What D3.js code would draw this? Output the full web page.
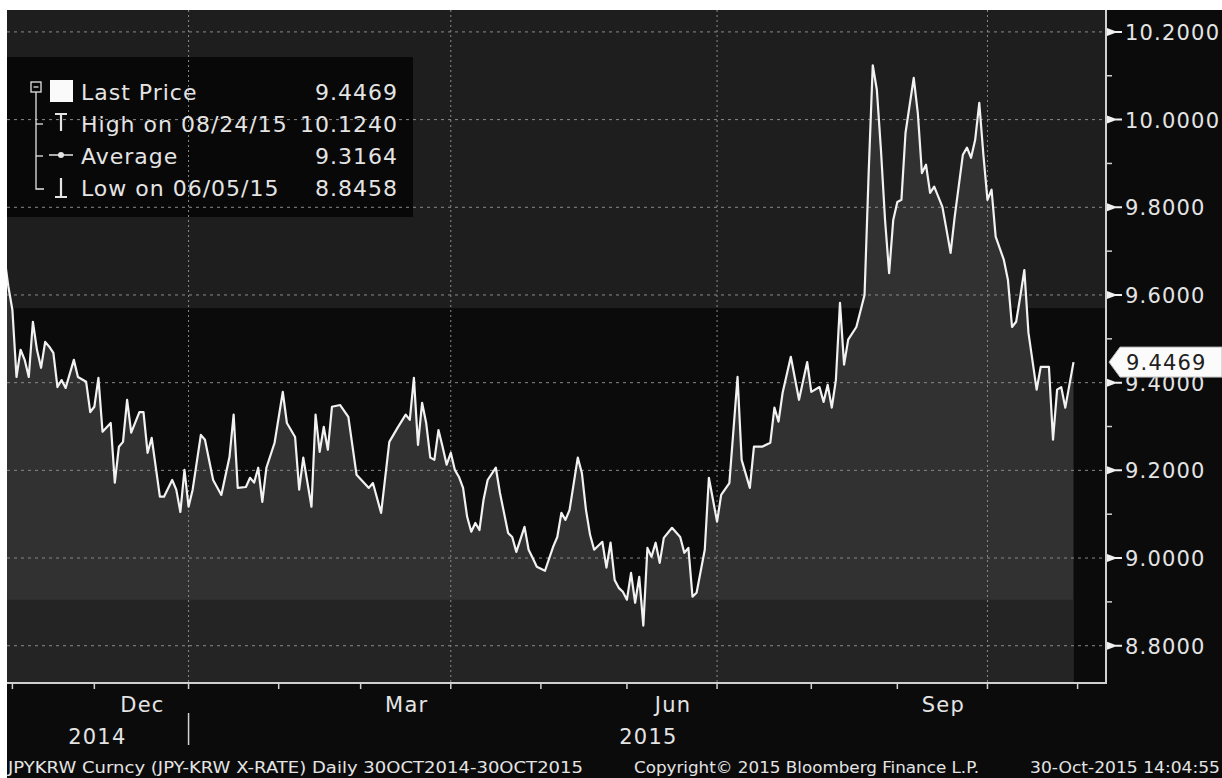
<!DOCTYPE html>
<html>
<meta charset="utf-8">
<style>
  body {
    margin: 0;
    background: #fff;
  }
  svg { display: block; }
  text {
    font-family: 'DejaVu Sans', sans-serif;
    fill: #e4e4e4;
  }
  .big {
    font-size: 21px;
    letter-spacing: 1.2px;
  }
  .leg {
    font-size: 22px;
    letter-spacing: 1px;
  }
  .foot { font-size: 15px; }
</style>
<body>
<script src="https://cdnjs.cloudflare.com/ajax/libs/d3/7.8.5/d3.min.js"></script>
<script>

// JPYKRW daily close, 30 Oct 2014 - 30 Oct 2015
// x is the trading-day index counted from 30 Oct 2014 (weekends skipped, like Bloomberg does)
var dayIdx = [0, 1, 2, 3, 4, 5, 6, 7, 8, 9, 10, 11, 12, 13, 14, 15, 17, 18, 20, 21,
  22, 23, 24, 26, 27, 28, 29, 30, 31, 33, 34, 35, 36, 38, 39, 41, 42, 43, 44, 45,
  46, 48, 49, 51, 53, 55, 56, 57, 59, 60, 61, 62, 63, 64, 66, 68, 69, 71, 72, 73,
  75, 76, 77, 78, 79, 80, 82, 84, 86, 89, 90, 92, 94, 96, 98, 99, 100, 101, 102, 103,
  104, 105, 106, 107, 108, 109, 110, 111, 112, 113, 114, 115, 116, 117, 118, 120, 121, 123, 124, 125,
  127, 128, 129, 130, 132, 134, 135, 136, 137, 138, 140, 141, 142, 143, 144, 146, 147, 148, 149, 150,
  151, 152, 153, 154, 155, 156, 157, 158, 159, 160, 161, 163, 165, 166, 167, 168, 169, 171, 172, 174,
  175, 177, 179, 180, 182, 183, 185, 187, 188, 189, 190, 192, 194, 196, 197, 199, 200, 201, 202, 203,
  204, 205, 206, 208, 210, 211, 212, 213, 214, 215, 216, 217, 218, 219, 220, 222, 223, 224, 225, 226,
  227, 229, 230, 231, 232, 234, 235, 236, 237, 238, 239, 240, 241, 242, 244, 245, 246, 247, 248, 249,
  250, 252, 253, 255, 256, 257, 258, 259, 261];

var rate = [9.690, 9.620, 9.566, 9.413, 9.475, 9.452, 9.413, 9.539, 9.475, 9.434, 9.493, 9.482, 9.468, 9.390, 9.406, 9.388, 9.452, 9.413, 9.402, 9.333,
  9.345, 9.411, 9.288, 9.308, 9.172, 9.254, 9.265, 9.361, 9.286, 9.333, 9.333, 9.240, 9.274, 9.140, 9.140, 9.178, 9.156, 9.105, 9.201, 9.117,
  9.156, 9.281, 9.270, 9.178, 9.144, 9.231, 9.327, 9.160, 9.162, 9.183, 9.172, 9.206, 9.128, 9.206, 9.263, 9.379, 9.308, 9.276, 9.156, 9.229,
  9.117, 9.327, 9.242, 9.299, 9.247, 9.345, 9.349, 9.322, 9.190, 9.160, 9.171, 9.103, 9.265, 9.297, 9.327, 9.315, 9.411, 9.258, 9.354, 9.308,
  9.229, 9.224, 9.292, 9.254, 9.213, 9.240, 9.201, 9.185, 9.160, 9.094, 9.060, 9.080, 9.064, 9.133, 9.178, 9.206, 9.149, 9.057, 9.048, 9.014,
  9.071, 9.019, 9.000, 8.980, 8.971, 9.026, 9.048, 9.103, 9.087, 9.110, 9.229, 9.194, 9.110, 9.053, 9.019, 9.037, 8.978, 9.035, 8.950, 8.932,
  8.923, 8.905, 8.966, 8.898, 8.957, 8.846, 9.023, 9.003, 9.035, 8.989, 9.046, 9.069, 9.048, 9.012, 9.023, 8.912, 8.921, 9.019, 9.183, 9.083,
  9.144, 9.171, 9.413, 9.224, 9.160, 9.254, 9.254, 9.263, 9.343, 9.311, 9.377, 9.459, 9.361, 9.447, 9.379, 9.390, 9.356, 9.395, 9.343, 9.406,
  9.582, 9.441, 9.498, 9.527, 9.600, 9.878, 10.124, 10.068, 9.931, 9.771, 9.650, 9.771, 9.812, 9.817, 9.970, 10.095, 10.015, 9.878, 9.897, 9.833,
  9.847, 9.801, 9.749, 9.696, 9.778, 9.920, 9.936, 9.913, 9.954, 10.038, 9.920, 9.817, 9.840, 9.733, 9.680, 9.634, 9.527, 9.539, 9.596, 9.657,
  9.514, 9.384, 9.436, 9.436, 9.270, 9.384, 9.390, 9.343, 9.4469];

// first trading day of each month (as trading-day index)
var monthTicks = [2, 22, 45, 67, 87, 109, 131, 152, 174, 197, 218, 240, 262];
var quarterLines = [45, 109, 174, 240];
var monthLabels = ['Dec', 'Mar', 'Jun', 'Sep'];
var monthSpans = [[22, 45], [87, 109], [152, 174], [218, 240]];
var yearLabels = ['2014', '2015'];
var yearLabelAt = [22.5, 157];
var yearBreak = 45;

var yTicks = [8.8, 9.0, 9.2, 9.4, 9.6, 9.8, 10.0, 10.2];
var yMinor = [8.9, 9.1, 9.3, 9.5, 9.7, 9.9, 10.1];

var legendNames = ['Last Price', 'High on 08/24/15', 'Average', 'Low on 06/05/15'];
var legendValues = ['9.4469', '10.1240', '9.3164', '8.8458'];
var lastPrice = 9.4469;

// shaded bands behind the price
var bandHigh = 9.57;
var bandLow = 8.905;

var footLeft = 'JPYKRW Curncy (JPY-KRW X-RATE)  Daily 30OCT2014-30OCT2015';
var footMid = 'Copyright\u00a9 2015 Bloomberg Finance L.P.';
var footRight = '30-Oct-2015 14:04:55';

var data = dayIdx.map(function(d, i) { return { i: d, v: rate[i] }; });

var width = 1222, height = 778;
var L = 7, T = 10, R = 1106, B = 683;

var x = d3.scaleLinear().domain([0, 262]).range([4.2, 1077.6]);
var y = d3.scaleLinear().domain([8.715, 10.25]).range([B, T]);

var svg = d3.select('body').append('svg')
  .attr('width', width)
  .attr('height', height);

svg.append('rect').attr('width', width).attr('height', height).attr('fill', '#fff');
svg.append('rect')
  .attr('x', L).attr('y', T)
  .attr('width', width - L).attr('height', height - T)
  .attr('fill', '#0b0b0b');

svg.append('clipPath').attr('id', 'plot')
  .append('rect')
  .attr('x', L).attr('y', T)
  .attr('width', R - L).attr('height', B - T);

var plot = svg.append('g').attr('clip-path', 'url(#plot)');

// top band
plot.append('rect')
  .attr('x', L).attr('y', T)
  .attr('width', R - L).attr('height', y(bandHigh) - T)
  .attr('fill', '#1e1e1e');

// legend box background
plot.append('rect')
  .attr('x', L).attr('y', 57)
  .attr('width', 406).attr('height', 160)
  .attr('fill', '#080808');

// area under price
var area = d3.area()
  .x(function(d) { return x(d.i); })
  .y0(B)
  .y1(function(d) { return y(d.v); });

plot.append('path')
  .datum(data)
  .attr('d', area)
  .attr('fill', '#313131');

// lower band, only under the data
plot.append('rect')
  .attr('x', L).attr('y', y(bandLow))
  .attr('width', x(dayIdx[dayIdx.length - 1]) - L)
  .attr('height', B - y(bandLow))
  .attr('fill', '#242424');

// grid
plot.selectAll('.hgrid')
  .data(yTicks)
  .enter()
  .append('line')
  .attr('x1', L).attr('x2', R)
  .attr('y1', function(d) { return y(d); })
  .attr('y2', function(d) { return y(d); })
  .attr('stroke', '#8a8a8a')
  .attr('stroke-width', 1)
  .attr('stroke-dasharray', '3,4');

plot.selectAll('.vgrid')
  .data(quarterLines)
  .enter()
  .append('line')
  .attr('x1', function(d) { return x(d); })
  .attr('x2', function(d) { return x(d); })
  .attr('y1', T).attr('y2', B)
  .attr('stroke', '#8a8a8a')
  .attr('stroke-width', 1)
  .attr('stroke-dasharray', '2,3');

// price line
var line = d3.line()
  .x(function(d) { return x(d.i); })
  .y(function(d) { return y(d.v); });

plot.append('path')
  .datum(data)
  .attr('d', line)
  .attr('fill', 'none')
  .attr('stroke', '#f2f2f2')
  .attr('stroke-width', 2.2)
  .attr('stroke-linejoin', 'round');

// axes frame
svg.append('path')
  .attr('d', 'M' + L + ',' + B + 'H' + R + 'V' + T)
  .attr('fill', 'none')
  .attr('stroke', '#d0d0d0')
  .attr('stroke-width', 2);

// x ticks
svg.selectAll('.xtick')
  .data(monthTicks)
  .enter()
  .append('line')
  .attr('x1', function(d) { return x(d); })
  .attr('x2', function(d) { return x(d); })
  .attr('y1', B).attr('y2', B + 6)
  .attr('stroke', '#d0d0d0')
  .attr('stroke-width', 1.5);

// y minor ticks
svg.selectAll('.yminor')
  .data(yMinor)
  .enter()
  .append('line')
  .attr('x1', R).attr('x2', R + 6)
  .attr('y1', function(d) { return y(d); })
  .attr('y2', function(d) { return y(d); })
  .attr('stroke', '#d0d0d0')
  .attr('stroke-width', 1.5);

// y major ticks: little white flags + labels
var yt = svg.selectAll('.ytick')
  .data(yTicks)
  .enter()
  .append('g')
  .attr('transform', function(d) { return 'translate(' + R + ',' + y(d) + ')'; });

yt.append('path')
  .attr('d', 'M1,-4L9,-1L16,-1L16,1L9,1L1,4Z')
  .attr('fill', '#f0f0f0');

yt.append('text')
  .attr('class', 'big')
  .attr('x', 19)
  .attr('y', 8)
  .text(function(d) { return d.toFixed(4); });

// last price tag (covers part of the 9.4000 label, as in the original)
var ly = y(lastPrice);
svg.append('path')
  .attr('d', 'M' + (R + 3) + ',' + ly + 'L' + (R + 14) + ',' + (ly - 15) + 'H' + width +
    'V' + (ly + 15) + 'H' + (R + 14) + 'Z')
  .attr('fill', '#fbfbfb')
  .attr('stroke', '#bbb');

svg.append('text')
  .attr('class', 'big')
  .attr('x', R + 20)
  .attr('y', ly + 8)
  .style('fill', '#202020')
  .text(legendValues[0]);

// legend
var lg = svg.append('g');
var rowY = [100, 132, 164, 196];

lg.selectAll('.lname')
  .data(legendNames)
  .enter()
  .append('text')
  .attr('class', 'leg')
  .attr('x', 81)
  .attr('y', function(d, i) { return rowY[i]; })
  .text(function(d) { return d; });

lg.selectAll('.lval')
  .data(legendValues)
  .enter()
  .append('text')
  .attr('class', 'leg')
  .attr('x', 398)
  .attr('y', function(d, i) { return rowY[i]; })
  .attr('text-anchor', 'end')
  .text(function(d) { return d; });

var ic = '#e4e4e4';
// tree
lg.append('rect').attr('x', 31).attr('y', 82).attr('width', 10).attr('height', 10)
  .attr('fill', 'none').attr('stroke', ic).attr('stroke-width', 1.3);
lg.append('line').attr('x1', 33.5).attr('x2', 38.5).attr('y1', 87).attr('y2', 87)
  .attr('stroke', ic).attr('stroke-width', 1.3);
lg.append('path').attr('d', 'M36,92V189H44')
  .attr('fill', 'none').attr('stroke', ic).attr('stroke-width', 1.3);
lg.selectAll('.branch')
  .data([124, 156])
  .enter()
  .append('line')
  .attr('x1', 36).attr('x2', 43)
  .attr('y1', function(d) { return d; })
  .attr('y2', function(d) { return d; })
  .attr('stroke', ic).attr('stroke-width', 1.3);
// last price swatch
lg.append('rect').attr('x', 50).attr('y', 80).attr('width', 23).attr('height', 22)
  .attr('fill', '#fafafa');
// high marker
lg.append('path').attr('d', 'M55,114H67M61,114V131')
  .attr('stroke', ic).attr('stroke-width', 2.2).attr('fill', 'none');
// average marker
lg.append('line').attr('x1', 49).attr('x2', 73).attr('y1', 155).attr('y2', 155)
  .attr('stroke', ic).attr('stroke-width', 1.5);
lg.append('circle').attr('cx', 61).attr('cy', 155).attr('r', 3).attr('fill', ic);
// low marker
lg.append('path').attr('d', 'M61,178V196M55,197H67')
  .attr('stroke', ic).attr('stroke-width', 2.2).attr('fill', 'none');

// month labels
svg.selectAll('.mlab')
  .data(monthLabels)
  .enter()
  .append('text')
  .attr('class', 'big')
  .attr('x', function(d, i) { return (x(monthSpans[i][0]) + x(monthSpans[i][1])) / 2 + 1; })
  .attr('y', 712)
  .attr('text-anchor', 'middle')
  .text(function(d) { return d; });

svg.selectAll('.ylab')
  .data(yearLabels)
  .enter()
  .append('text')
  .attr('class', 'big')
  .attr('x', function(d, i) { return x(yearLabelAt[i]) + 1; })
  .attr('y', 744)
  .attr('text-anchor', 'middle')
  .text(function(d) { return d; });

svg.append('line')
  .attr('x1', x(yearBreak)).attr('x2', x(yearBreak))
  .attr('y1', 713).attr('y2', 745)
  .attr('stroke', '#d0d0d0')
  .attr('stroke-width', 1.5);

// footer
svg.append('text').attr('class', 'foot')
  .attr('x', 8).attr('y', 773)
  .attr('textLength', 575).attr('lengthAdjust', 'spacingAndGlyphs')
  .text(footLeft);
svg.append('text').attr('class', 'foot')
  .attr('x', 634).attr('y', 773)
  .attr('textLength', 345).attr('lengthAdjust', 'spacingAndGlyphs')
  .text(footMid);
svg.append('text').attr('class', 'foot')
  .attr('x', 1030).attr('y', 773)
  .attr('textLength', 190).attr('lengthAdjust', 'spacingAndGlyphs')
  .text(footRight);

</script>
</body>
</html>
